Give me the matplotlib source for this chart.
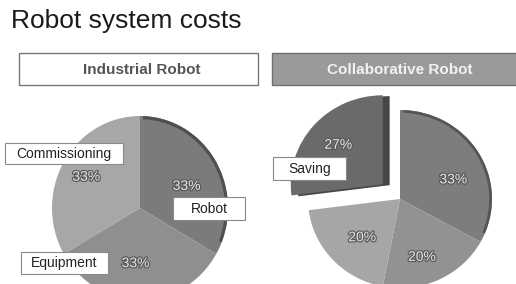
import matplotlib
matplotlib.use("Agg")
import matplotlib.pyplot as plt
import matplotlib.patheffects as pe
from matplotlib.patches import Wedge

plt.rcParams['font.family'] = ['Liberation Sans', 'DejaVu Sans']

W, H = 516, 284
title = "Robot system costs"
panel_titles = ["Industrial Robot", "Collaborative Robot"]

ind_labels = ["Robot", "Equipment", "Commissioning"]
ind_values = [33, 33, 33]
ind_colors = ["#7b7b7b", "#8f8f8f", "#a7a7a7"]

col_labels = ["Robot", "Equipment", "Commissioning", "Saving"]
col_values = [33, 20, 20, 27]
col_colors = ["#7d7d7d", "#929292", "#a6a6a6", "#6a6a6a"]
col_explode = [0, 0, 0, 0.25]

fig = plt.figure(figsize=(W / 100, H / 100), dpi=100)
fig.patch.set_facecolor("white")

def fx(x):
    return x / W

def fy(y):
    return 1 - y / H

fig.text(fx(11), fy(21), title, fontsize=19, color="#1a1a1a", va="center", ha="left")

# panel header boxes
hdr = fig.add_axes([0, 0, 1, 1], zorder=0)
hdr.set_xlim(0, W); hdr.set_ylim(H, 0); hdr.axis("off")
hdr.add_patch(plt.Rectangle((19, 53), 239, 32, facecolor="white", edgecolor="#777777", lw=1))
hdr.add_patch(plt.Rectangle((272, 53), 250, 32, facecolor="#9a9a9a", edgecolor="#6f6f6f", lw=1))
hdr.text(142, 70, panel_titles[0], fontsize=11, fontweight="bold", color="#555555", ha="center", va="center")
hdr.text(400, 70, panel_titles[1], fontsize=11, fontweight="bold", color="#f2f2f2", ha="center", va="center")

pct_fx = [pe.withStroke(linewidth=1.8, foreground="#5a5a5a")]

def pie_axes(cx, cy, Rx, Ry):
    return fig.add_axes([fx(cx - Rx), fy(cy + Ry), 2 * Rx / W, 2 * Ry / H], zorder=1)

def finish(ax):
    ax.set_xlim(-1, 1); ax.set_ylim(-1, 1)
    ax.set_aspect("auto")
    ax.axis("off")

# left pie
axL = pie_axes(140, 208, 88, 92)
wedgesL, _ = axL.pie(ind_values, colors=ind_colors, startangle=90, counterclock=False,
                     wedgeprops=dict(linewidth=0), labels=None)
finish(axL)
for w in wedgesL:
    w.set_clip_on(False)
wr = wedgesL[0]
axL.add_patch(Wedge(wr.center, wr.r, wr.theta1 + 8, wr.theta2 - 2, width=0.035,
                    facecolor="#505050", linewidth=0, clip_on=False))

pctL = [(0.53, 0.24), (-0.05, -0.60), (-0.61, 0.34)]
for (x, y), v in zip(pctL, ind_values):
    axL.text(x, y, f"{v}%", fontsize=10, color="#e6e6e6", ha="center", va="center", path_effects=pct_fx)

# right pie
axR = pie_axes(400, 199, 92, 89)
wedgesR, _ = axR.pie(col_values, colors=col_colors, startangle=90, counterclock=False,
                     explode=col_explode, wedgeprops=dict(linewidth=0), labels=None)
finish(axR)
for w in wedgesR:
    w.set_clip_on(False)
ws = wedgesR[3]
side = Wedge((ws.center[0] + 0.075, ws.center[1] - 0.01), ws.r, ws.theta1, ws.theta2,
             facecolor="#474747", linewidth=0, clip_on=False, zorder=ws.get_zorder() - 0.5)
axR.add_patch(side)
wr = wedgesR[0]
axR.add_patch(Wedge(wr.center, wr.r, wr.theta1 + 6, wr.theta2 - 2, width=0.03,
                    facecolor="#555555", linewidth=0, clip_on=False))

pctR = [(0.58, 0.22), (0.24, -0.65), (-0.41, -0.43), (-0.67, 0.61)]
for (x, y), v in zip(pctR, col_values):
    axR.text(x, y, f"{v}%", fontsize=10, color="#e6e6e6", ha="center", va="center", path_effects=pct_fx)

# label boxes
boxes = [
    ("Commissioning", 5, 143, 118, 21),
    ("Robot", 173, 197, 72, 23),
    ("Equipment", 21, 252, 87, 22),
    ("Saving", 273, 157, 73, 23),
]
top = fig.add_axes([0, 0, 1, 1], zorder=3)
top.set_xlim(0, W); top.set_ylim(H, 0); top.axis("off")
for txt, x, y, w, h in boxes:
    top.add_patch(plt.Rectangle((x, y), w, h, facecolor="white", edgecolor="#8a8a8a", lw=0.8))
    top.text(x + w / 2, y + h / 2 + 0.5, txt, fontsize=10, color="#222222", ha="center", va="center")

fig.savefig("out.png", dpi=100)
